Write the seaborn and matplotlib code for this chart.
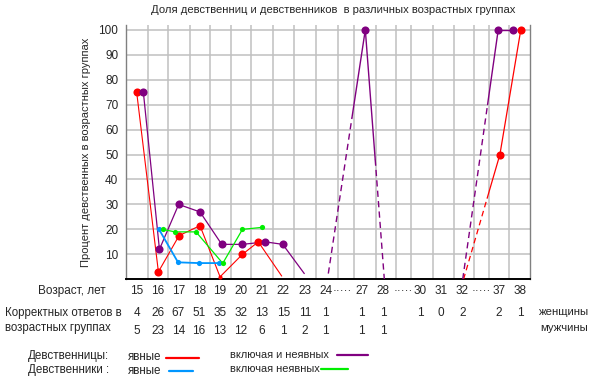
import matplotlib
matplotlib.use("Agg")
import matplotlib.pyplot as plt
import matplotlib.transforms as mtransforms
from matplotlib.lines import Line2D
import seaborn as sns
import pandas as pd

# ---------------- data ----------------
age_labels = ["15", "16", "17", "18", "19", "20", "21", "22", "23", "24", "·····",
              "27", "28", "·····", "30", "31", "32", "·····", "37", "38"]
women_ages = ["15", "16", "17", "18", "19", "20", "21", "22", "23", "24",
              "27", "28", "30", "31", "32", "37", "38"]
women_counts = [4, 26, 67, 51, 35, 32, 13, 15, 11, 1, 1, 1, 1, 0, 2, 2, 1]
men_ages = ["15", "16", "17", "18", "19", "20", "21", "22", "23", "24", "27", "28"]
men_counts = [5, 23, 14, 16, 13, 12, 6, 1, 2, 1, 1, 1]

# series (x in age-slot units of the axis, y in percent)
red_x = [0.51, 1.55, 2.54, 3.54, 4.50, 5.57, 6.33, 7.45]
red_y = [75, 3, 17.5, 21.5, 1, 10, 15, 1.3]
red_tail_x = [16.15, 17.89, 18.89]
red_tail_y = [0, 50, 100]
purple_x = [0.83, 1.60, 2.52, 3.54, 4.58, 5.57, 6.67, 7.50, 8.53]
purple_y = [75, 12, 30, 27, 14, 14, 15, 14, 2.3]
purple_peak_x = [9.68, 11.45, 12.36]
purple_peak_y = [2.3, 100, 0]
purple_tail_x = [16.11, 17.81, 18.53]
purple_tail_y = [0, 100, 100]
blue_x = [1.58, 2.49, 3.48, 4.44]
blue_y = [20, 6.8, 6.5, 6.5]
green_x = [1.76, 2.34, 3.35, 4.63, 5.57, 6.49]
green_y = [20, 19, 19, 6.4, 20, 20.8]

# ---------------- layout / style ----------------
age_pos = [0.51, 1.52, 2.50, 3.50, 4.50, 5.50, 6.51, 7.53, 8.56, 9.55, 10.35,
           11.27, 12.31, 13.27, 14.07, 15.07, 16.09, 17.02, 17.85, 18.85]
grid_x = [1.05, 2.03, 3.04, 4.02, 5.02, 5.98, 7.03, 8.04, 9.11, 10.12, 10.93,
          11.96, 12.94, 13.66, 14.67, 15.67, 16.65, 17.37, 18.33]
RED, PURPLE, BLUE, GREEN = "#FF0000", "#800080", "#0096FF", "#00EE00"
DASH = (0, (4.5, 3))

sns.set_style("white")
plt.rcParams["font.family"] = ["Liberation Sans", "DejaVu Sans"]
plt.rcParams["font.size"] = 8

W, H = 603, 388
fig = plt.figure(figsize=(W / 100, H / 100), dpi=100)
ax = fig.add_axes([126 / W, 1 - 279.3 / H, (530 - 126) / W, (279.3 - 25) / H])
ax.set_xlim(0, 19.33)
ax.set_ylim(0, 101.9)

# grid
for gx in grid_x:
    ax.axvline(gx, color="#C0C0C0", lw=1.1, zorder=0)
for gy in range(10, 101, 10):
    ax.axhline(gy, color="#C0C0C0", lw=1.1, zorder=0)

ax.set_xticks([])
ax.set_yticks(list(range(10, 101, 10)))
ax.tick_params(axis="y", length=3, width=0.8, color="#808080", pad=2.5, labelsize=8.5)
ax.spines["top"].set_visible(False)
for s in ("left", "right"):
    ax.spines[s].set_color("#808080")
    ax.spines[s].set_linewidth(1.0)
ax.spines["bottom"].set_color("black")
ax.spines["bottom"].set_linewidth(1.4)


def seg(xs, ys, i, pattern, color, lw):
    x0, y0, x1, y1 = xs[i], ys[i], xs[i + 1], ys[i + 1]
    for f0, f1, ls in pattern:
        px = [x0 + f0 * (x1 - x0), x0 + f1 * (x1 - x0)]
        py = [y0 + f0 * (y1 - y0), y0 + f1 * (y1 - y0)]
        sns.lineplot(x=px, y=py, sort=False, estimator=None, color=color,
                     lw=lw, linestyle=ls, ax=ax, zorder=3)


def line(xs, ys, color, lw):
    sns.lineplot(x=xs, y=ys, sort=False, estimator=None, color=color, lw=lw,
                 ax=ax, zorder=3)


def dots(xs, ys, color, s):
    sns.scatterplot(x=xs, y=ys, color=color, s=s, linewidth=0, ax=ax, zorder=4)


# red (women, explicit)
line(red_x, red_y, RED, 0.8)
dots(red_x[:4] + red_x[5:7], red_y[:4] + red_y[5:7], RED, 34)
dots([red_x[4]], [red_y[4]], RED, 9)
seg(red_tail_x, red_tail_y, 0, [(0, 0.65, DASH), (0.65, 1, "-")], RED, 0.9)
seg(red_tail_x, red_tail_y, 1, [(0, 1, "-")], RED, 0.9)
dots(red_tail_x[1:], red_tail_y[1:], RED, 34)

# purple (women, incl. implicit)
line(purple_x, purple_y, PURPLE, 0.9)
dots(purple_x[:-1], purple_y[:-1], PURPLE, 34)
seg(purple_peak_x, purple_peak_y, 0, [(0, 0.64, DASH), (0.64, 1, "-")], PURPLE, 1.0)
seg(purple_peak_x, purple_peak_y, 1, [(0, 0.52, "-"), (0.52, 1, DASH)], PURPLE, 1.0)
dots([purple_peak_x[1]], [purple_peak_y[1]], PURPLE, 34)
seg(purple_tail_x, purple_tail_y, 0, [(0, 0.7, DASH), (0.7, 1, "-")], PURPLE, 1.0)
seg(purple_tail_x, purple_tail_y, 1, [(0, 1, "-")], PURPLE, 1.0)
dots(purple_tail_x[1:], purple_tail_y[1:], PURPLE, 34)

# blue (men, explicit)
line(blue_x, blue_y, BLUE, 1.3)
dots(blue_x, blue_y, BLUE, 14)

# green (men, incl. implicit)
line(green_x, green_y, GREEN, 0.9)
dots(green_x, green_y, GREEN, 14)

# ---------------- texts ----------------
fig.text(333.5 / W, 1 - 10 / H,
         "Доля девственниц и девственников  в различных возрастных группах",
         ha="center", va="center", fontsize=8.1)
fig.text(86 / W, 1 - 152 / H, "Процент девственных в возрастных группах",
         rotation=90, ha="center", va="center", fontsize=8)

tr = mtransforms.blended_transform_factory(ax.transData, fig.transFigure)
for lab, p in zip(age_labels, age_pos):
    ax.text(p, 1 - 291 / H, lab, transform=tr, ha="center", va="center",
            fontsize=8.5, clip_on=False)
pos_of = {lab: p for lab, p in zip(age_labels, age_pos)}
for a, c in zip(women_ages, women_counts):
    ax.text(pos_of[a], 1 - 313 / H, str(c), transform=tr, ha="center",
            va="center", fontsize=8.5, clip_on=False)
for a, c in zip(men_ages, men_counts):
    ax.text(pos_of[a], 1 - 331 / H, str(c), transform=tr, ha="center",
            va="center", fontsize=8.5, clip_on=False)

fig.text(38 / W, 1 - 291 / H, "Возраст, лет", ha="left", va="center", fontsize=8.5)
fig.text(5 / W, 1 - 313 / H, "Корректных ответов в", ha="left", va="center", fontsize=8.3)
fig.text(5 / W, 1 - 328 / H, "возрастных группах", ha="left", va="center", fontsize=8.3)
fig.text(538 / W, 1 - 312 / H, "женщины", ha="left", va="center", fontsize=8.2)
fig.text(540 / W, 1 - 328 / H, "мужчины", ha="left", va="center", fontsize=8.2)

# legend
fig.text(28 / W, 1 - 356.5 / H, "Девственницы:", ha="left", va="center", fontsize=8.4)
fig.text(28 / W, 1 - 370.5 / H, "Девственники :", ha="left", va="center", fontsize=8.4)
fig.text(128 / W, 1 - 357 / H, "явные", ha="left", va="center", fontsize=8.4)
fig.text(128 / W, 1 - 371 / H, "явные", ha="left", va="center", fontsize=8.4)
fig.text(230 / W, 1 - 355.5 / H, "включая и неявных", ha="left", va="center", fontsize=7.9)
fig.text(230 / W, 1 - 369.5 / H, "включая неявных", ha="left", va="center", fontsize=7.9)
for x0, x1, y, c in [(166, 199, 357.7, RED), (169, 193, 371, BLUE),
                     (337, 368, 355.3, PURPLE), (321, 348, 369, GREEN)]:
    fig.add_artist(Line2D([x0 / W, x1 / W], [1 - y / H, 1 - y / H],
                          color=c, lw=1.6, transform=fig.transFigure))

fig.savefig("out.png", dpi=100)
